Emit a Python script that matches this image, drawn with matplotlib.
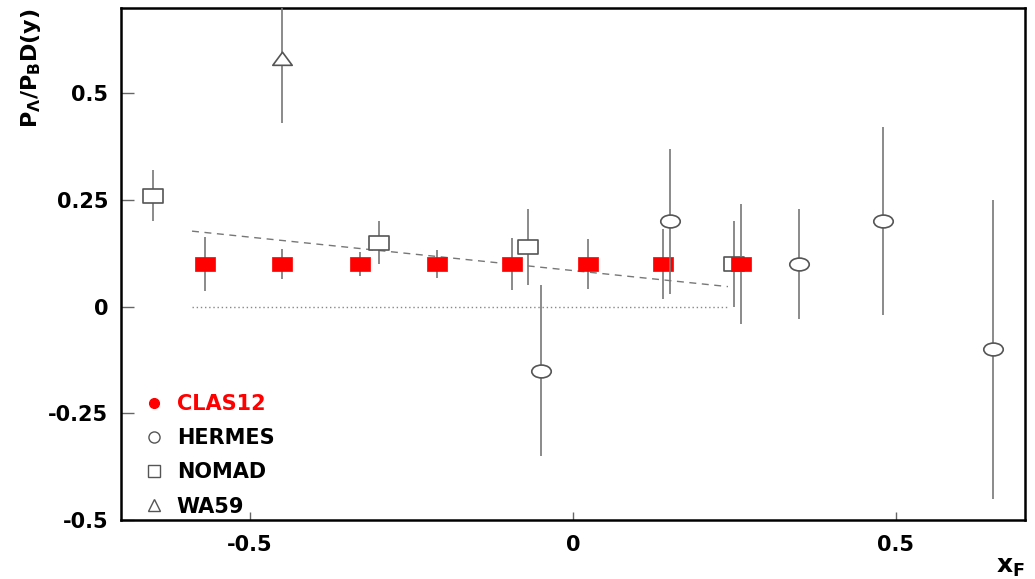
import matplotlib
matplotlib.use('Agg')
import matplotlib.pyplot as plt
from matplotlib.path import Path
from matplotlib.transforms import Affine2D
from matplotlib.lines import Line2D

# CLAS12 projection (red)
clas_x = [-0.57, -0.45, -0.33, -0.21, -0.095, 0.023, 0.14, 0.26]
clas_y = [0.1, 0.1, 0.1, 0.1, 0.1, 0.1, 0.1, 0.1]
clas_err = [0.063, 0.034, 0.027, 0.033, 0.06, 0.058, 0.081, 0.14]

# HERMES
hermes_x = [-0.05, 0.15, 0.35, 0.48, 0.65]
hermes_y = [-0.15, 0.2, 0.1, 0.2, -0.1]
hermes_err = [0.2, 0.17, 0.13, 0.22, 0.35]

# NOMAD
nomad_x = [-0.65, -0.30, -0.07, 0.25]
nomad_y = [0.26, 0.15, 0.14, 0.1]
nomad_err = [0.06, 0.05, 0.09, 0.1]

# WA59
wa59_x = [-0.45]
wa59_y = [0.58]
wa59_err = [0.15]

# fit line and zero reference
fit_x = [-0.59, 0.24]
fit_y = [0.177, 0.047]
zero_x = [-0.59, 0.24]
zero_y = [0.0, 0.0]

xticks = [-0.5, 0, 0.5]
xtick_labels = ['-0.5', '0', '0.5']
yticks = [-0.5, -0.25, 0, 0.25, 0.5]
ytick_labels = ['-0.5', '-0.25', '0', '0.25', '0.5']

plt.rcParams['font.family'] = 'DejaVu Sans'
plt.rcParams['font.weight'] = 'bold'
plt.rcParams['axes.labelweight'] = 'bold'
plt.rcParams['mathtext.fontset'] = 'custom'
plt.rcParams['mathtext.rm'] = 'DejaVu Sans:bold'
plt.rcParams['mathtext.it'] = 'DejaVu Sans:bold'
plt.rcParams['mathtext.bf'] = 'DejaVu Sans:bold'

# stretched markers (the original picture is wider than tall)
rect = Path([(-1, -0.68), (1, -0.68), (1, 0.68), (-1, 0.68), (-1, -0.68)],
            [Path.MOVETO, Path.LINETO, Path.LINETO, Path.LINETO, Path.CLOSEPOLY])
ellipse = Path.unit_circle().transformed(Affine2D().scale(1, 0.66))
tri = Path([(-1, -0.6), (1, -0.6), (0, 0.75), (-1, -0.6)],
           [Path.MOVETO, Path.LINETO, Path.LINETO, Path.CLOSEPOLY])

fig = plt.figure(figsize=(10.35, 5.79), dpi=100)
ax = fig.add_axes([0.1169, 0.1019, 0.8734, 0.8843])

ecol = '#777777'
mcol = '#555555'

ax.plot(zero_x, zero_y, color='#888888', lw=1, linestyle=(0, (1, 2)), zorder=1)
ax.plot(fit_x, fit_y, color='#777777', lw=1, linestyle=(0, (5, 4)), zorder=1)

ax.errorbar(nomad_x, nomad_y, yerr=nomad_err, fmt='none', ecolor=ecol, elinewidth=1.2, zorder=2)
ax.plot(nomad_x, nomad_y, linestyle='none', marker=rect, ms=14, mfc='white', mec=mcol, mew=1.2, zorder=3)

ax.errorbar(clas_x, clas_y, yerr=clas_err, fmt='none', ecolor=ecol, elinewidth=1.2, zorder=4)
ax.plot(clas_x, clas_y, linestyle='none', marker=rect, ms=14, mfc='red', mec='red', mew=0.5, zorder=5)

ax.errorbar(hermes_x, hermes_y, yerr=hermes_err, fmt='none', ecolor=ecol, elinewidth=1.2, zorder=6)
ax.plot(hermes_x, hermes_y, linestyle='none', marker=ellipse, ms=14, mfc='white', mec=mcol, mew=1.2, zorder=7)

ax.errorbar(wa59_x, wa59_y, yerr=wa59_err, fmt='none', ecolor=ecol, elinewidth=1.2, zorder=6)
ax.plot(wa59_x, wa59_y, linestyle='none', marker=tri, ms=14, mfc='white', mec=mcol, mew=1.2, zorder=7)

ax.set_xlim(-0.7, 0.7)
ax.set_ylim(-0.5, 0.7)
ax.set_xticks(xticks)
ax.set_xticklabels(xtick_labels)
ax.set_yticks(yticks)
ax.set_yticklabels(ytick_labels)
ax.tick_params(axis='y', direction='in', length=9.5, width=1, color='#666666',
               labelsize=15, pad=9, right=False)
ax.tick_params(axis='x', direction='in', length=6, width=1, color='#666666',
               labelsize=15, pad=11, top=False)
for s in ax.spines.values():
    s.set_linewidth(1.8)

ax.set_ylabel(r'P$_{\Lambda}$/P$_{\rm B}$D(y)', fontsize=16, fontweight='bold', loc='top', labelpad=4)
ax.set_xlabel(r'x$_{\rm F}$', fontsize=18, fontweight='bold', loc='right', labelpad=0)

handles = [
    Line2D([], [], linestyle='none', marker='o', ms=7, mfc='red', mec='red'),
    Line2D([], [], linestyle='none', marker='o', ms=8, mfc='white', mec=mcol, mew=1),
    Line2D([], [], linestyle='none', marker='s', ms=8, mfc='white', mec=mcol, mew=1),
    Line2D([], [], linestyle='none', marker='^', ms=8, mfc='white', mec=mcol, mew=1),
]
labels = ['CLAS12', 'HERMES', 'NOMAD', 'WA59']
ax.legend(handles, labels, loc='lower left', bbox_to_anchor=(0.004, -0.03), frameon=False,
          fontsize=15, handlelength=1.0, handletextpad=0.6, labelspacing=0.68,
          labelcolor=['red', 'black', 'black', 'black'])

fig.savefig('out.png', dpi=100)
